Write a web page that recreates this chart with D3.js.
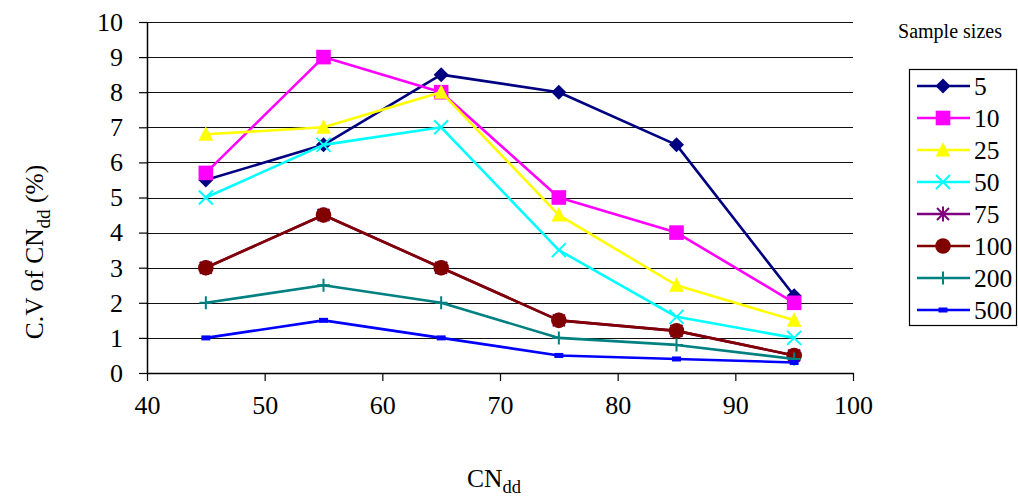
<!DOCTYPE html>
<html>
<head>
<meta charset="utf-8">
<script src="https://cdn.jsdelivr.net/npm/d3@7"></script>
<style>
  html, body { margin: 0; padding: 0; background: #fff; }
  svg { display: block; }
  svg text { font-family: "Liberation Serif", "Times New Roman", serif; fill: #000; }
</style>
</head>
<body>
<svg id="chart" width="1018" height="500"></svg>
<script>
// CN_dd values on the x axis
const cnValues = [45, 55, 65, 75, 85, 95];

// Coefficient of variation (%) per sample size
const sampleSizes = ["5", "10", "25", "50", "75", "100", "200", "500"];
const cv5   = [5.5, 6.5, 8.5, 8.0, 6.5, 2.2];
const cv10  = [5.7, 9.0, 8.0, 5.0, 4.0, 2.0];
const cv25  = [6.8, 7.0, 8.0, 4.5, 2.5, 1.5];
const cv50  = [5.0, 6.5, 7.0, 3.5, 1.6, 1.0];
const cv75  = [3.0, 4.5, 3.0, 1.5, 1.2, 0.5];
const cv100 = [3.0, 4.5, 3.0, 1.5, 1.2, 0.5];
const cv200 = [2.0, 2.5, 2.0, 1.0, 0.8, 0.4];
const cv500 = [1.0, 1.5, 1.0, 0.5, 0.4, 0.3];

const xTicks = [40, 50, 60, 70, 80, 90, 100];
const yTicks = [0, 1, 2, 3, 4, 5, 6, 7, 8, 9, 10];

const seriesStyle = [
  { color: "#000080", marker: "diamond" },
  { color: "#FF00FF", marker: "square" },
  { color: "#FFFF00", marker: "triangle" },
  { color: "#00FFFF", marker: "cross" },
  { color: "#800080", marker: "asterisk" },
  { color: "#800000", marker: "circle" },
  { color: "#008080", marker: "plus" },
  { color: "#0000FF", marker: "bar" }
];
const seriesValues = [cv5, cv10, cv25, cv50, cv75, cv100, cv200, cv500];

const series = sampleSizes.map((name, i) => ({
  name,
  values: seriesValues[i].map((v, j) => ({ x: cnValues[j], y: v })),
  ...seriesStyle[i]
}));

const SERIF = "'Liberation Serif', 'Times New Roman', serif";
const svg = d3.select("#chart");
const plotLeft = 147, plotRight = 853, plotTop = 22, plotBottom = 373;

const x = d3.scaleLinear().domain([40, 100]).range([plotLeft, plotRight]);
const y = d3.scaleLinear().domain([0, 10]).range([plotBottom, plotTop]);

// Horizontal gridlines
svg.append("g")
  .selectAll("line")
  .data(yTicks.filter(d => d > 0))
  .join("line")
  .attr("x1", plotLeft).attr("x2", plotRight)
  .attr("y1", d => Math.round(y(d)) + 0.5).attr("y2", d => Math.round(y(d)) + 0.5)
  .attr("stroke", "#111").attr("stroke-width", 1.2);

// Axes
const xAxis = svg.append("g")
  .attr("transform", `translate(0,${plotBottom})`)
  .call(d3.axisBottom(x).tickValues(xTicks).tickSize(8).tickSizeOuter(0).tickPadding(15));
const yAxis = svg.append("g")
  .attr("transform", `translate(${plotLeft},0)`)
  .call(d3.axisLeft(y).tickValues(yTicks).tickSize(8).tickSizeOuter(0).tickPadding(16));

[xAxis, yAxis].forEach(g => {
  g.attr("font-family", SERIF).attr("font-size", 26);
  g.select(".domain").attr("stroke", "#000").attr("stroke-width", 1.5);
  g.selectAll(".tick line").attr("stroke", "#000").attr("stroke-width", 1.2);
  g.selectAll("text").attr("fill", "#000");
});

// Marker drawing
function drawMarker(g, type, color) {
  switch (type) {
    case "diamond":
      g.append("path").attr("d", "M0,-7.5L7.5,0L0,7.5L-7.5,0Z").attr("fill", color);
      break;
    case "square":
      g.append("rect").attr("x", -7.3).attr("y", -7.3).attr("width", 14.6).attr("height", 14.6).attr("fill", color);
      break;
    case "triangle":
      g.append("path").attr("d", "M0,-8L7.3,6.5L-7.3,6.5Z").attr("fill", color);
      break;
    case "cross":
      g.append("path").attr("d", "M-7,-7L7,7M7,-7L-7,7")
        .attr("stroke", color).attr("stroke-width", 2);
      break;
    case "asterisk":
      g.append("path").attr("d", "M-6,-6L6,6M6,-6L-6,6M0,-7.5L0,7.5")
        .attr("stroke", color).attr("stroke-width", 2);
      break;
    case "circle":
      g.append("circle").attr("r", 7.8).attr("fill", color);
      break;
    case "plus":
      g.append("path").attr("d", "M-6.5,0L6.5,0M0,-6.5L0,6.5")
        .attr("stroke", color).attr("stroke-width", 2);
      break;
    case "bar":
      g.append("rect").attr("x", -4.5).attr("y", -2.5).attr("width", 9).attr("height", 5).attr("fill", color);
      break;
  }
}

const line = d3.line().x(d => x(d.x)).y(d => y(d.y));

// Series lines and markers
series.forEach(s => {
  const g = svg.append("g");
  g.append("path")
    .datum(s.values)
    .attr("d", line)
    .attr("fill", "none")
    .attr("stroke", s.color)
    .attr("stroke-width", 2.6)
    .attr("stroke-linejoin", "round");
  s.values.forEach(p => {
    const m = g.append("g").attr("transform", `translate(${x(p.x)},${y(p.y)})`);
    drawMarker(m, s.marker, s.color);
  });
});

// Axis titles
svg.append("text")
  .attr("x", 494).attr("y", 487)
  .attr("text-anchor", "middle")
  .attr("font-size", 25.5)
  .html('CN<tspan dy="6" font-size="18.5">dd</tspan>');

svg.append("text")
  .attr("transform", "translate(43,252) rotate(-90)")
  .attr("text-anchor", "middle")
  .attr("font-size", 25.5)
  .html('C.V of CN<tspan dy="7" font-size="19">dd</tspan><tspan dy="-7"> (%)</tspan>');

// Legend
svg.append("text")
  .attr("x", 950).attr("y", 38)
  .attr("text-anchor", "middle")
  .attr("font-size", 20)
  .text("Sample sizes");

const legend = svg.append("g");
legend.append("rect")
  .attr("x", 909.5).attr("y", 69.5).attr("width", 107).attr("height", 256)
  .attr("fill", "#fff").attr("stroke", "#000").attr("stroke-width", 1.2);

const legendY = d3.scalePoint().domain(sampleSizes).range([86, 310]);
series.forEach(s => {
  const cy = legendY(s.name);
  const row = legend.append("g").attr("transform", `translate(0,${cy})`);
  row.append("line").attr("x1", 917).attr("x2", 970).attr("y1", 0).attr("y2", 0)
    .attr("stroke", s.color).attr("stroke-width", 2.6);
  drawMarker(row.append("g").attr("transform", "translate(943,0)"), s.marker, s.color);
  row.append("text").attr("x", 974).attr("y", 0).attr("dy", "0.35em")
    .attr("font-size", 25.5).text(s.name);
});
</script>
</body>
</html>
